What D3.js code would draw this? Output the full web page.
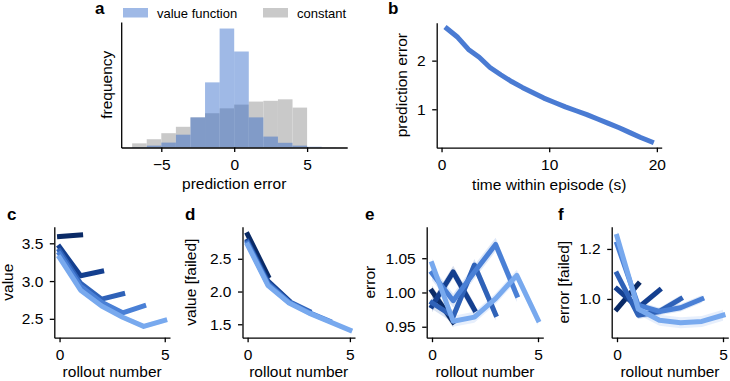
<!DOCTYPE html>
<html><head><meta charset="utf-8">
<script src="https://cdn.jsdelivr.net/npm/d3@7"></script>
<style>
body{margin:0;background:#fff}
svg text{font-family:"Liberation Sans",Arial,Helvetica,sans-serif;fill:#000}
</style>
</head><body><svg id="chart" width="730" height="381"></svg>
<script>
// ---------------- data ----------------
// panel a: histogram of prediction errors (density per unit bin)
const histBinEdges = [-7,-6,-5,-4,-3,-2,-1,0,1,2,3,4,5,6,7];
const histValueFunction = [0.001,0.005,0.013,0.034,0.080,0.173,0.316,0.255,0.080,0.029,0.0125,0.005,0.002,0.0005];
const histConstant      = [0.011,0.022,0.038,0.055,0.080,0.091,0.104,0.114,0.122,0.124,0.128,0.106,0,0];
const histLegend = ["value function","constant"];
const histXTicks = [-5,0,5];

// panel b: prediction error vs time within episode
const episodeTime = [0.5,1.5,2.5,3.5,4.5,5.5,6.5,7.5,8.5,9.5,10.5,11.5,12.5,13.5,14.5,15.5,16.5,17.5,18.5,19.5];
const episodeError = [2.66,2.48,2.23,2.07,1.86,1.71,1.57,1.45,1.34,1.23,1.14,1.05,0.97,0.89,0.80,0.71,0.62,0.52,0.42,0.33];
const timeTicks = [0,10,20];
const errorTicks = [1,2];

// panels c-f: series by rollout number (series k covers rollouts 0..k)
const rollouts = [0,1,2,3,4,5];
const rolloutTicks = [0,5];
const valueSeries = [
  [3.59,3.61],
  [3.45,3.07,3.13],
  [3.40,2.97,2.76,2.83],
  [3.36,2.93,2.72,2.58,2.67],
  [3.31,2.88,2.67,2.52,2.40,2.48]
];
const valueCI = [0.012,0.015,0.018,0.02,0.03];
const valueTicks = [2.5,3.0,3.5];

const valueFailedSeries = [
  [2.87,2.24],
  [2.77,2.16,1.87],
  [2.75,2.13,1.85,1.70],
  [2.73,2.11,1.84,1.68,1.55],
  [2.71,2.09,1.83,1.67,1.54,1.41]
];
const valueFailedCI = [0.015,0.02,0.02,0.025,0.03];
const valueFailedTicks = [1.5,2.0,2.5];

const errorSeries = [
  [1.002,0.957],
  [0.980,1.030,0.975],
  [0.985,0.965,1.040,0.968],
  [1.028,0.988,1.030,1.070,0.996],
  [1.042,0.958,0.964,0.991,1.025,0.960]
];
const errorCI = [0.008,0.009,0.009,0.01,0.008];
const errorYTicks = [0.95,1.00,1.05];

const errorFailedSeries = [
  [0.96,1.06],
  [1.04,0.965,1.035],
  [1.10,0.935,0.950,1.000],
  [1.22,0.975,0.950,0.965,1.000],
  [1.25,0.960,0.915,0.905,0.910,0.935]
];
const errorFailedCI = [0.012,0.014,0.015,0.015,0.022];
const errorFailedTicks = [1.0,1.2];

// ---------------- style ----------------
const seriesColors = ["#0a2a66","#143f8f","#2f62b8","#4a80d6","#78a9ee"];
const tickFont = 15.5, labelFont = 15.5;
const svg = d3.select("#chart");

function styleAxis(sel){
  sel.selectAll("path,line").attr("stroke","#000").attr("stroke-width",1.3);
  sel.selectAll("text").style("font-size",tickFont+"px").attr("fill","#000");
}

function panel(cfg){
  const g = svg.append("g");
  const x = d3.scaleLinear().domain(cfg.xDomain).range(cfg.xRange);
  const y = d3.scaleLinear().domain(cfg.yDomain).range(cfg.yRange);
  const body = g.append("g");
  const xa = g.append("g").attr("transform",`translate(0,${cfg.yRange[0]})`)
    .call(d3.axisBottom(x).tickValues(cfg.xTicks).tickFormat(cfg.xFmt).tickSize(4.5).tickSizeOuter(0).tickPadding(6.5));
  styleAxis(xa);
  const ya = g.append("g").attr("transform",`translate(${cfg.xRange[0]},0)`)
    .call(d3.axisLeft(y).tickValues(cfg.yTicks).tickFormat(cfg.yFmt).tickSize(4.5).tickSizeOuter(0).tickPadding(6.5));
  styleAxis(ya);
  g.append("text").attr("x",(cfg.xRange[0]+cfg.xRange[1])/2).attr("y",cfg.xLabelY)
    .attr("text-anchor","middle").style("font-size",labelFont+"px").text(cfg.xLabel);
  const yc = (cfg.yRange[0]+cfg.yRange[1])/2;
  g.append("text").attr("transform",`translate(${cfg.yLabelX},${yc}) rotate(-90)`)
    .attr("text-anchor","middle").style("font-size",labelFont+"px").text(cfg.yLabel);
  g.append("text").attr("x",cfg.letterX).attr("y",cfg.letterY)
    .style("font-size","17px").style("font-weight","bold").text(cfg.letter);
  return {body,x,y};
}

// ---------------- panel a ----------------
{
  const ymax = d3.max(histValueFunction.concat(histConstant))*1.055;
  const {body,x,y} = panel({xRange:[121.2,347.2],yRange:[147.5,22],xDomain:[-7.75,7.75],yDomain:[0,ymax],
    xTicks:histXTicks,yTicks:[],xFmt:d3.format("d"),yFmt:d3.format("d"),
    xLabel:"prediction error",xLabelY:189,yLabel:"frequency",yLabelX:111.5,letter:"a",letterX:95,letterY:14});
  const bins = d3.range(histConstant.length);
  body.selectAll("rect.c").data(bins).join("rect")
    .attr("x",i=>x(histBinEdges[i])).attr("width",i=>x(histBinEdges[i+1])-x(histBinEdges[i]))
    .attr("y",i=>y(histConstant[i])).attr("height",i=>y(0)-y(histConstant[i]))
    .attr("fill","#c9c9c9");
  body.selectAll("rect.v").data(bins).join("rect")
    .attr("x",i=>x(histBinEdges[i])).attr("width",i=>x(histBinEdges[i+1])-x(histBinEdges[i]))
    .attr("y",i=>y(histValueFunction[i])).attr("height",i=>y(0)-y(histValueFunction[i]))
    .attr("fill","#2a64c8").attr("fill-opacity",0.45);
  const leg = svg.append("g");
  const legX = [123,263];
  histLegend.forEach((name,i)=>{
    leg.append("rect").attr("x",legX[i]).attr("y",8).attr("width",25).attr("height",9.5)
      .attr("fill",i===0?"#2a64c8":"#c9c9c9").attr("fill-opacity",i===0?0.45:1);
    leg.append("text").attr("x",legX[i]+34).attr("y",17.5).style("font-size","13px").text(name);
  });
}

// ---------------- panel b ----------------
{
  const {body,x,y} = panel({xRange:[436.7,661.7],yRange:[147.7,22.7],xDomain:[-0.45,20.45],yDomain:[0.21,2.78],
    xTicks:timeTicks,yTicks:errorTicks,xFmt:d3.format("d"),yFmt:d3.format("d"),
    xLabel:"time within episode (s)",xLabelY:190,yLabel:"prediction error",yLabelX:406.5,letter:"b",letterX:388,letterY:14});
  body.append("path").datum(episodeError)
    .attr("d",d3.line().x((d,i)=>x(episodeTime[i])).y(d=>y(d)))
    .attr("fill","none").attr("stroke","#4a7bd3").attr("stroke-width",5)
    .attr("stroke-linejoin","round").attr("stroke-linecap","square");
}

// ---------------- panels c-f ----------------
function rolloutPanel(cfg, series, ci){
  const {body,x,y} = panel(Object.assign({xDomain:[-0.25,5.25],xTicks:rolloutTicks,xFmt:d3.format("d"),
    xLabel:"rollout number",xLabelY:377,letterY:220},cfg));
  series.forEach((s,k)=>{
    body.append("path").datum(s)
      .attr("d",d3.area().x((d,i)=>x(rollouts[i])).y0(d=>y(d-ci[k])).y1(d=>y(d+ci[k])))
      .attr("fill",seriesColors[k]).attr("fill-opacity",0.18).attr("stroke","none");
  });
  series.forEach((s,k)=>{
    body.append("path").datum(s)
      .attr("d",d3.line().x((d,i)=>x(rollouts[i])).y(d=>y(d)))
      .attr("fill","none").attr("stroke",seriesColors[k]).attr("stroke-width",5)
      .attr("stroke-linejoin","round").attr("stroke-linecap","square");
  });
}

rolloutPanel({xRange:[54.3,170],yRange:[337.7,226.7],yDomain:[2.25,3.72],yTicks:valueTicks,yFmt:d3.format(".1f"),
  yLabel:"value",yLabelX:13,letter:"c",letterX:7}, valueSeries, valueCI);
rolloutPanel({xRange:[242.5,355],yRange:[337.7,226.7],yDomain:[1.295,2.99],yTicks:valueFailedTicks,yFmt:d3.format(".1f"),
  yLabel:"value [failed]",yLabelX:196,letter:"d",letterX:185}, valueFailedSeries, valueFailedCI);
rolloutPanel({xRange:[426.7,543.3],yRange:[337.7,226.7],yDomain:[0.934,1.096],yTicks:errorYTicks,yFmt:d3.format(".2f"),
  yLabel:"error",yLabelX:375,letter:"e",letterX:365}, errorSeries, errorCI);
rolloutPanel({xRange:[611.7,728.3],yRange:[337.7,226.7],yDomain:[0.845,1.289],yTicks:errorFailedTicks,yFmt:d3.format(".1f"),
  yLabel:"error [failed]",yLabelX:569,letter:"f",letterX:558}, errorFailedSeries, errorFailedCI);
</script></body></html>
